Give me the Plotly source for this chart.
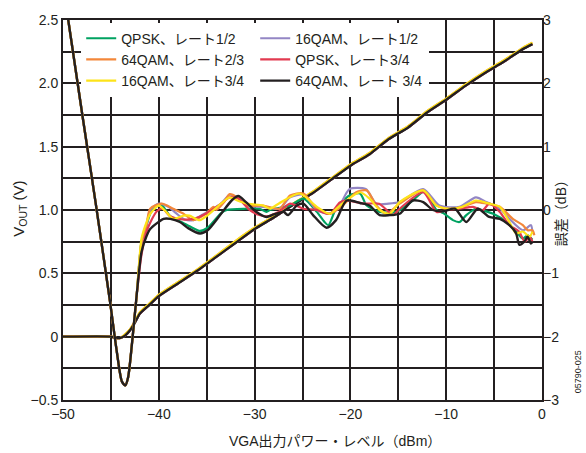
import plotly.graph_objects as go

# ---------------- data ----------------
SERIES_NAMES = ["QPSK、レート1/2", "16QAM、レート1/2", "64QAM、レート2/3",
                "QPSK、レート3/4", "16QAM、レート3/4", "64QAM、レート 3/4"]
SERIES_COLORS = ["#00a261", "#9386c4", "#f3873a", "#e23a50", "#fde319", "#231f20"]

# VOUT (V) vs VGA output power (dBm)
VOUT_X = [-50, -45, -44.5, -44, -43.5, -43, -42.5, -42, -41, -40, -38, -36, -34, -32,
          -30, -28, -26, -24, -22, -20, -18, -16, -14, -12, -10, -8, -6, -4, -2, -1]
VOUT_BLACK = [0, 0, -0.01, -0.01, 0.01, 0.05, 0.11, 0.18, 0.25, 0.32, 0.42, 0.52, 0.63, 0.74,
              0.85, 0.94, 1.04, 1.13, 1.24, 1.35, 1.44, 1.56, 1.65, 1.77, 1.87, 1.98, 2.08, 2.17, 2.27, 2.31]
VOUT_YELLOW = [0, 0, -0.01, -0.01, 0.02, 0.06, 0.12, 0.19, 0.26, 0.33, 0.43, 0.53, 0.64, 0.755,
               0.86, 0.95, 1.05, 1.14, 1.25, 1.36, 1.45, 1.57, 1.66, 1.78, 1.88, 1.99, 2.09, 2.18, 2.28, 2.32]

# shared steep front of the error curves (dB)
FRONT_X = [-49.6, -48, -46.6, -45.1, -44.4, -43.85, -43.5, -43.2, -42.8, -42.3]
FRONT_ERR = [3.15, 1.52, 0.12, -1.44, -2.22, -2.71, -2.77, -2.64, -2.11, -1.33]

# error (dB) after the front, per series
ERR_X_GREEN = [-41.8, -41.3, -40.9, -40.3, -39.7, -38.8, -37.5, -36.5, -35.7, -34.9, -33.5, -32.9, -31, -29.5,
               -28.75, -28.4, -26.3, -24.9, -23.5, -22.7, -22.3, -21.5, -20.1, -19.0, -18.3, -16.95, -15.2,
               -13.5, -12.3, -11.0, -10.3, -9.3, -8.6, -7.9, -6.9, -6.2, -5.1, -3.7, -2.7, -2.0, -1.5, -1.0]
ERR_GREEN = [-0.5, -0.25, -0.06, 0.07, 0.08, -0.1, -0.2, -0.28, -0.33, -0.28, -0.05, 0.0, 0.02, 0.02,
             -0.03, 0.0, 0.07, 0.18, -0.03, -0.19, -0.24, 0.02, 0.23, 0.26, 0.07, -0.03, -0.03,
             0.15, 0.29, 0.0, -0.05, -0.16, -0.19, -0.08, 0.02, -0.005, -0.06, -0.19, -0.34, -0.45, -0.4, -0.47]

ERR_X_PURPLE = [-41.8, -41.3, -40.9, -40.0, -39.0, -38.2, -37.3, -36.4, -35.5, -33.5, -32.6, -31.8, -30.8,
                -29.1, -27.4, -26.3, -24.9, -23.5, -22.2, -21.2, -20.1, -18.4, -17.3, -16.0, -14.86, -12.4,
                -10.7, -8.6, -6.9, -5.8, -4.4, -3.4, -2.0, -1.15, -1.0]
ERR_PURPLE = [-0.5, -0.25, 0.0, 0.1, 0.05, -0.05, -0.15, -0.16, -0.08, 0.1, 0.24, 0.2, 0.07,
              0.05, 0.02, 0.2, 0.24, 0.0, -0.06, 0.05, 0.33, 0.33, 0.1, 0.1, 0.125, 0.33,
              0.07, 0.05, 0.2, 0.125, 0.02, -0.14, -0.32, -0.24, -0.37]

ERR_X_ORANGE = [-41.8, -41.3, -40.9, -39.7, -38.5, -37.5, -36.4, -35.0, -34.3, -34.0, -33.2, -32.6, -31.8,
                -30.8, -29.1, -27.4, -26.3, -24.9, -23.5, -22.15, -20.8, -19.4, -18.3, -17.3, -16.25, -14.86,
                -12.4, -11.0, -9.6, -8.3, -6.9, -5.8, -4.4, -3.05, -2.0, -1.5, -1.0, -0.8]
ERR_ORANGE = [-0.5, -0.25, 0.02, 0.1, 0.02, -0.05, -0.16, -0.05, 0.05, 0.0, 0.12, 0.25, 0.2,
              0.07, 0.07, 0.02, 0.23, 0.26, 0.02, -0.06, 0.07, 0.28, 0.31, 0.07, -0.06, 0.1,
              0.31, 0.07, 0.02, 0.05, 0.125, 0.1, 0.05, -0.14, -0.24, -0.32, -0.32, -0.4]

ERR_X_RED = [-41.8, -41.3, -40.9, -40.2, -39.6, -38.8, -37.5, -36.4, -35.0, -33.5, -32.6, -31.7, -30.5,
             -29.5, -28.75, -27.5, -26.3, -24.9, -23.5, -22.15, -21.1, -20.4, -18.6, -17.0, -15.55, -14.86,
             -12.4, -11.0, -10.0, -8.6, -7.2, -6.2, -5.5, -4.4, -3.4, -2.4, -1.8, -1.3, -1.0]
ERR_RED = [-0.7, -0.35, -0.2, -0.02, 0.02, -0.1, -0.15, -0.14, -0.05, 0.1, 0.2, 0.18, 0.0,
           -0.08, -0.1, -0.03, 0.1, 0.02, 0.0, -0.06, 0.12, 0.15, 0.1, 0.1, -0.08, 0.02,
           0.28, -0.03, 0.0, 0.02, 0.05, -0.005, 0.1, -0.03, -0.24, -0.34, -0.5, -0.42, -0.5]

ERR_X_YELLOW = [-41.8, -41.3, -40.9, -40.0, -39.3, -38.5, -37.4, -36.8, -35.7, -33.5, -32.6, -31.8, -30.8,
                -29.1, -28.4, -27.5, -25.3, -23.5, -22.15, -21.1, -19.0, -18.0, -16.95, -15.9, -14.86,
                -12.4, -11.0, -9.6, -8.3, -6.9, -5.5, -4.4, -3.4, -2.7, -2.0, -1.3, -1.0]
ERR_YELLOW = [-0.45, -0.2, -0.06, 0.07, -0.02, -0.14, -0.09, -0.09, -0.16, 0.1, 0.2, 0.15, 0.1,
              0.07, 0.02, 0.1, 0.26, 0.05, -0.06, 0.07, 0.28, 0.18, 0.0, -0.06, 0.125,
              0.31, 0.07, 0.02, 0.05, 0.15, 0.1, 0.05, -0.19, -0.37, -0.34, -0.42, -0.34]

ERR_X_BLACK = [-41.8, -41.3, -40.9, -39.5, -38.8, -37.8, -36.9, -35.7, -34.9, -33.6, -32.4, -31.7, -30.9,
               -29.8, -28.75, -28.0, -27.0, -26.5, -25.6, -24.9, -23.9, -22.5, -21.5, -20.4, -19.0, -18.0,
               -16.95, -15.9, -14.86, -13.5, -12.4, -11.4, -10.3, -9.1, -7.9, -6.7, -5.5, -4.4, -3.4,
               -2.7, -2.36, -1.85, -1.5, -1.15, -0.97]
ERR_BLACK = [-0.66, -0.42, -0.3, -0.14, -0.14, -0.19, -0.29, -0.37, -0.32, -0.08, 0.15, 0.22, 0.125,
             -0.03, -0.11, -0.07, -0.03, -0.08, 0.07, 0.1, -0.08, -0.28, -0.16, 0.15, 0.11, 0.07,
             -0.08, -0.08, -0.06, 0.15, 0.125, 0.0, -0.02, 0.02, -0.19, 0.02, -0.11, -0.14, -0.24,
             -0.37, -0.55, -0.5, -0.42, -0.53, -0.5]

ERR_XS = [ERR_X_GREEN, ERR_X_PURPLE, ERR_X_ORANGE, ERR_X_RED, ERR_X_YELLOW, ERR_X_BLACK]
ERR_YS = [ERR_GREEN, ERR_PURPLE, ERR_ORANGE, ERR_RED, ERR_YELLOW, ERR_BLACK]
VOUTS = [VOUT_BLACK, VOUT_BLACK, VOUT_YELLOW, VOUT_BLACK, VOUT_YELLOW, VOUT_BLACK]

X_TICKS = [-50, -40, -30, -20, -10, 0]
X_TICKTEXT = ["−50", "−40", "−30", "−20", "−10", "0"]
X_GRID = [-45, -35, -25, -15, -5]
Y_TICKS = [-0.5, 0, 0.5, 1.0, 1.5, 2.0, 2.5]
Y_TICKTEXT = ["−0.5", "0", "0.5", "1.0", "1.5", "2.0", "2.5"]
Y_GRID = [-0.25, 0.25, 0.75, 1.25, 1.75, 2.25]
Y2_TICKS = [-3, -2, -1, 0, 1, 2, 3]
Y2_TICKTEXT = ["−3", "−2", "−1", "0", "1", "2", "3"]

# ---------------- figure ----------------
INK = "#231f20"
FONT = "Liberation Sans, Arial, Noto Sans CJK JP, sans-serif"
JFONT = "Liberation Sans, Noto Sans CJK JP, sans-serif"

fig = go.Figure()
for i, (name, color) in enumerate(zip(SERIES_NAMES, SERIES_COLORS)):
    w = 2.4 if color == INK else 2.2
    fig.add_trace(go.Scatter(
        x=FRONT_X + ERR_XS[i], y=FRONT_ERR + ERR_YS[i], yaxis="y2",
        mode="lines", line=dict(color=color, width=w, shape="spline", smoothing=0.7),
        name=name, legendgroup=name, showlegend=True, legendrank=i + 1))
    fig.add_trace(go.Scatter(
        x=VOUT_X, y=VOUTS[i], mode="lines",
        line=dict(color=color, width=w, shape="spline", smoothing=0.5),
        name=name, legendgroup=name, showlegend=False))

grid = dict(showgrid=True, gridcolor=INK, gridwidth=1.5)
fig.update_layout(
    width=586, height=453,
    margin=dict(l=63, r=44, t=16, b=53),
    paper_bgcolor="white", plot_bgcolor="white",
    font=dict(family=FONT, size=14, color=INK),
    showlegend=True,
    legend=dict(orientation="h", x=0.038, y=0.993, xanchor="left", yanchor="top",
                bgcolor="white", borderwidth=0, entrywidth=129, entrywidthmode="pixels",
                font=dict(family=JFONT, size=14, color=INK), itemwidth=30,
                tracegroupgap=0),
    xaxis=dict(range=[-50, 0], tickvals=X_TICKS, ticktext=X_TICKTEXT, **grid,
               minor=dict(tickvals=X_GRID, **grid),
               showline=True, linecolor=INK, linewidth=2, mirror=True,
               ticks="", zeroline=False, tickfont=dict(size=14)),
    yaxis=dict(range=[-0.5, 2.5], tickvals=Y_TICKS, ticktext=Y_TICKTEXT, **grid,
               minor=dict(tickvals=Y_GRID, **grid),
               showline=True, linecolor=INK, linewidth=2, mirror=True,
               ticks="", zeroline=False, tickfont=dict(size=14)),
    yaxis2=dict(range=[-3, 3], tickvals=Y2_TICKS, ticktext=Y2_TICKTEXT,
                overlaying="y", side="right", showgrid=False, zeroline=False,
                showline=False, ticks="", tickfont=dict(size=14)),
)

fig.add_annotation(text="V<sub>OUT</sub> (V)", xref="paper", yref="paper",
                   x=-0.09, y=0.503, textangle=-90, showarrow=False,
                   font=dict(size=15, color=INK), xanchor="center", yanchor="middle")
fig.add_annotation(text="誤差（dB）", xref="paper", yref="paper",
                   x=1.04, y=0.50, textangle=-90, showarrow=False,
                   font=dict(size=14, color=INK, family=JFONT), xanchor="center", yanchor="middle")
fig.add_annotation(text="VGA出力パワー・レベル（dBm）", xref="paper", yref="paper",
                   x=(335 - 63) / 479, y=-(441 - 400) / 384, showarrow=False,
                   font=dict(size=14, color=INK, family=JFONT), xanchor="center", yanchor="middle")
fig.add_annotation(text="05790-025", xref="paper", yref="paper",
                   x=(578 - 63) / 479, y=(400 - 372) / 384, textangle=-90, showarrow=False,
                   font=dict(size=9, color=INK), xanchor="center", yanchor="middle")

fig.write_html("out.html")
